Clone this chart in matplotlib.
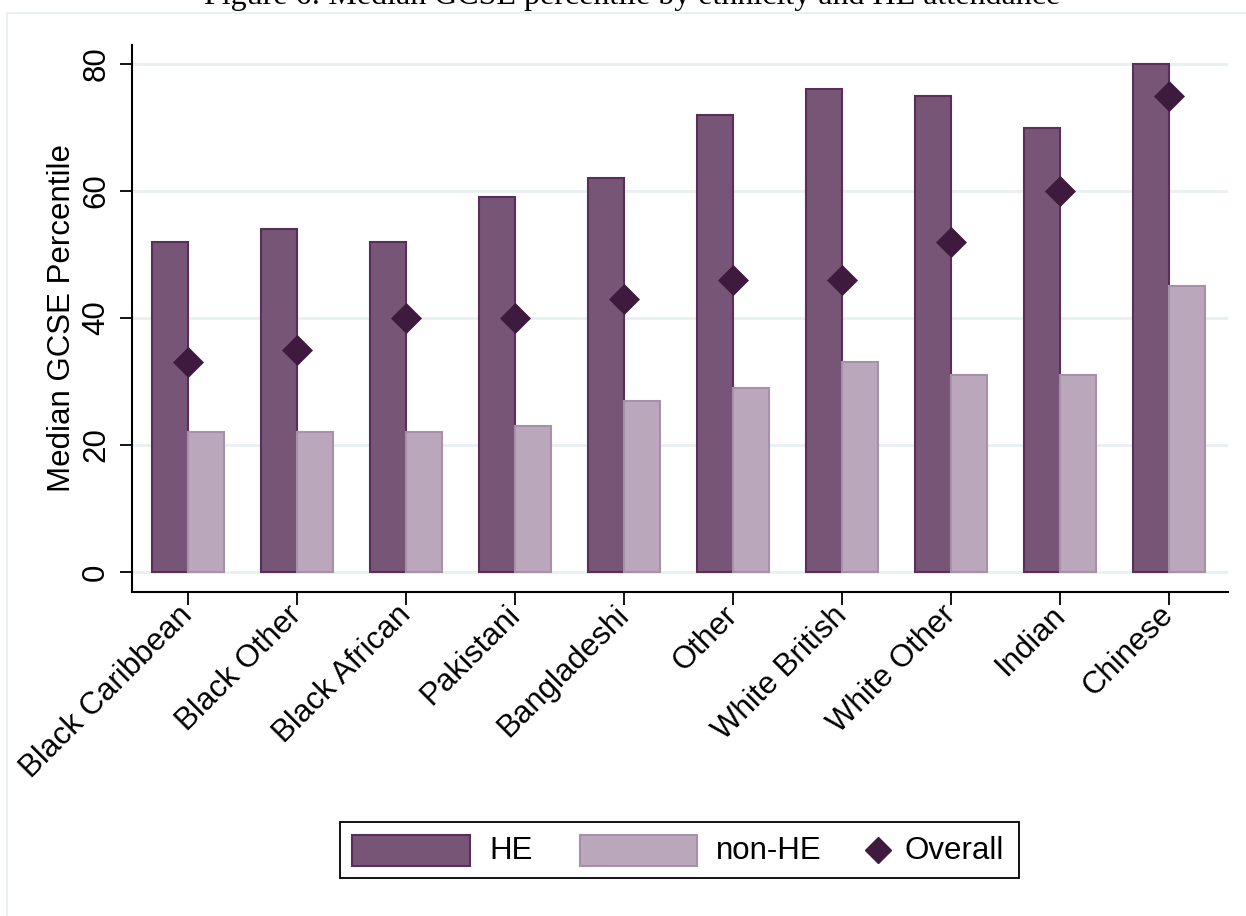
"""
Median GCSE percentile by ethnicity and HE attendance (Stata-style bar chart).
"""

import matplotlib.pyplot as plt
from matplotlib.patches import Rectangle
from matplotlib.lines import Line2D
import numpy as np

# Data
# ====
groups = ["Black Caribbean", "Black Other", "Black African", "Pakistani", "Bangladeshi",
          "Other", "White British", "White Other", "Indian", "Chinese"]
he = [52, 54, 52, 59, 62, 72, 76, 75, 70, 80]
non_he = [22, 22, 22, 23, 27, 29, 33, 31, 31, 45]
overall = [33, 35, 40, 40, 43, 46, 46, 52, 60, 75]
yticks = [0, 20, 40, 60, 80]
legend_labels = ["HE", "non-HE", "Overall"]

title = "Figure 6: Median GCSE percentile by ethnicity and HE attendance"

# Colours
he_fill, he_edge = "#775577", "#5b2d5b"
non_fill, non_edge = "#baa7bb", "#a791a8"
dia_col = "#3e1b3e"
grid_col = "#e9f0f1"

W, H = 1246, 916
fig = plt.figure(figsize=(W / 100, H / 100), dpi=100)
fig.patch.set_facecolor("white")
plt.rcParams["font.family"] = ["Liberation Sans", "DejaVu Sans"]
fs = 22.5


def px(x, y):
    # pixel position (from top-left) -> figure fraction
    return x / W, 1 - y / H


# faint outer frame (graph region outline)
fig.add_artist(Rectangle((7 / W, -0.05), 1.2, 1 - 12.5 / H + 0.05, transform=fig.transFigure,
                         fill=False, edgecolor="#e6eef0", lw=1.2))

# cut-off caption from the page above
fig.text(*px(632, 4), title, ha="center", va="baseline",
         family="Liberation Serif", fontsize=23)

ax = fig.add_axes([132 / W, (H - 592) / H, (1228 - 132) / W, (592 - 45) / H])
x = np.arange(len(groups))
bw = 0.33
ax.bar(x - bw / 2, he, bw, color=he_fill, edgecolor=he_edge, lw=1.5, zorder=2)
ax.bar(x + bw / 2, non_he, bw, color=non_fill, edgecolor=non_edge, lw=1.5, zorder=2)
ax.scatter(x, overall, marker="D", s=250, color=dia_col, zorder=3, linewidths=0)

ax.set_xlim(-0.515, 9.54)
ax.set_ylim(-3.15, 83)
ax.set_yticks(yticks)
ax.set_yticklabels([str(v) for v in yticks], rotation=90, va="center", fontsize=fs)
ax.set_xticks(x)
ax.set_xticklabels(groups, rotation=45, ha="right", va="center", rotation_mode="anchor", fontsize=fs)
ax.tick_params(axis="both", length=9, width=1.3, color="black", pad=6)
ax.tick_params(axis="x", pad=4.5)
ax.grid(axis="y", color=grid_col, lw=2, zorder=0)
ax.set_axisbelow(True)
for s in ["top", "right"]:
    ax.spines[s].set_visible(False)
for s in ["left", "bottom"]:
    ax.spines[s].set_linewidth(1.5)
ax.set_ylabel("Median GCSE Percentile", fontsize=fs, labelpad=3)

# Legend, drawn by hand to get Stata's spacing
x0, y0 = px(340, 878)
x1, y1 = px(1019, 822)
fig.add_artist(Rectangle((x0, y0), x1 - x0, y1 - y0, transform=fig.transFigure,
                         fill=False, edgecolor="black", lw=1.3))
for (xa, xb), fc, ec in [((352, 470), he_fill, he_edge), ((580, 697), non_fill, non_edge)]:
    a, b = px(xa, 866)
    c, d = px(xb, 835)
    fig.add_artist(Rectangle((a, b), c - a, d - b, transform=fig.transFigure,
                             facecolor=fc, edgecolor=ec, lw=1.5))
fig.add_artist(Line2D([878 / W], [1 - 850 / H], transform=fig.transFigure, marker="D",
                      color=dia_col, markersize=13, ls="none"))
for xt, lab in zip([489, 716, 904], legend_labels):
    fig.text(*px(xt, 851), lab, ha="left", va="center", fontsize=fs)

plt.savefig("out.png", dpi=100)
